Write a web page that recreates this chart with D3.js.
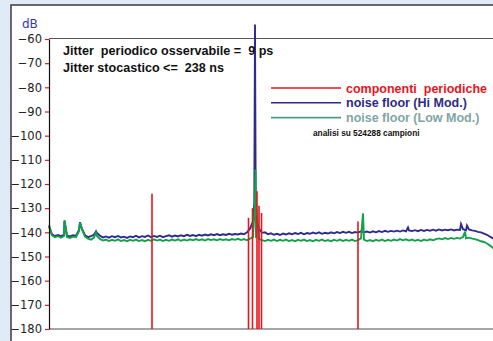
<!DOCTYPE html>
<html>
<head>
<meta charset="utf-8">
<script src="https://cdn.jsdelivr.net/npm/d3@7"></script>
<style>
  html, body { margin: 0; padding: 0; background: #e0ebf7; }
  svg { display: block; }
  text { white-space: pre; }
</style>
</head>
<body>
<div id="chart"></div>
<script>
// dB axis ticks
const yTicks = [-60, -70, -80, -90, -100, -110, -120, -130, -140, -150, -160, -170, -180];

// noise floor, one value every 3 bins (bins 0..450)
const floorStep = 3;
const hiModFloor = [
  -137.5, -140.8, -141.5, -141.1, -141.6, -141.0, -141.4, -141.7, -141.2, -141.5,
  -139.0, -138.6, -141.2, -142.0, -141.6, -141.0, -140.3, -141.4, -142.1, -141.7,
  -142.2, -141.6, -142.0, -141.5, -142.1, -141.8, -142.3, -141.7, -142.0, -141.4,
  -142.1, -141.6, -141.9, -141.3, -142.0, -141.5, -141.9, -141.4, -142.0, -141.6,
  -141.2, -141.8, -141.3, -141.7, -141.2, -141.6, -141.0, -141.5, -141.1, -141.6,
  -141.0, -141.4, -140.9, -141.3, -140.8, -141.2, -140.7, -141.2, -140.8, -141.1,
  -140.6, -141.0, -140.7, -140.9, -140.5, -140.8, -140.0, -138.5, -135.5, -134.5,
  -138.5, -140.2, -140.0, -140.8, -140.4, -141.0, -140.6, -141.1, -140.5, -140.9,
  -140.4, -140.8, -140.3, -140.7, -140.2, -140.8, -140.3, -140.6, -140.1, -140.5,
  -140.0, -140.6, -140.2, -140.5, -140.0, -140.4, -139.9, -140.3, -139.8, -140.2,
  -139.8, -140.3, -139.9, -140.1, -139.6, -140.0, -139.7, -140.1, -139.6, -140.0,
  -139.5, -139.9, -139.4, -139.8, -139.4, -139.7, -139.3, -139.7, -139.2, -139.6,
  -139.2, -139.5, -139.1, -139.5, -139.0, -139.4, -139.0, -139.3, -138.9, -139.3,
  -138.8, -139.2, -138.9, -139.1, -138.8, -139.2, -138.9, -139.0, -138.7, -139.1,
  -138.8, -139.2, -139.4, -139.8, -140.0, -140.5, -141.0, -141.8, -142.5, -143.2,
  -143.8
];
const lowModFloor = [
  -137.0, -141.3, -142.0, -141.6, -142.2, -141.5, -141.9, -142.3, -141.8, -142.0,
  -139.5, -138.8, -141.8, -142.6, -143.0, -142.2, -141.5, -142.7, -143.4, -143.0,
  -143.6, -143.1, -143.5, -142.9, -143.6, -143.2, -143.7, -143.1, -143.5, -143.0,
  -143.6, -143.2, -143.7, -143.1, -143.5, -142.9, -143.4, -143.0, -143.6, -143.1,
  -143.5, -143.0, -143.4, -142.9, -143.5, -143.0, -143.4, -142.9, -143.3, -142.8,
  -143.3, -142.9, -143.4, -142.8, -143.2, -142.9, -143.3, -142.8, -143.2, -142.9,
  -143.3, -142.8, -143.1, -142.7, -143.2, -142.8, -143.3, -142.6, -142.0, -142.4,
  -142.8, -143.2, -143.6, -143.1, -143.5, -143.0, -143.6, -143.1, -143.5, -143.0,
  -143.6, -143.2, -143.7, -143.1, -143.5, -143.0, -143.6, -143.2, -143.7, -143.1,
  -143.5, -143.0, -143.6, -143.2, -143.7, -143.1, -143.5, -143.0, -143.6, -143.1,
  -143.5, -143.0, -143.6, -143.2, -142.5, -143.0, -143.6, -143.2, -143.7, -143.1,
  -143.5, -143.0, -143.6, -143.1, -143.5, -143.0, -143.4, -142.8, -143.3, -142.9,
  -143.4, -143.0, -143.5, -143.1, -143.6, -143.0, -143.4, -142.9, -143.3, -142.8,
  -142.5, -142.9, -142.4, -142.8, -142.3, -142.7, -142.3, -142.6, -142.0, -142.5,
  -142.2, -142.6, -142.8, -143.2, -143.7, -144.0, -144.6, -145.5, -146.5, -147.3,
  -148.0
];

// narrow peaks on top of the floor: [bin, dB]
const hiModPeaks = [[15.5, -135.3], [31, -135.8], [47, -139.6], [205.3, -128], [206, -54], [206.7, -127], [359, -138.0], [412, -136.6], [418, -137.2]];
const lowModPeaks = [[15.5, -135.0], [31, -136.0], [47, -140.0], [205.8, -128], [206.5, -114], [207.2, -130], [314, -132.1], [416, -139.7]];

// periodic components: [bin, dB]
const periodic = [[103, -124], [199.5, -134], [203.5, -130], [208, -123], [210, -129], [212.5, -132], [309, -135.5]];

const legendItems = [
  {label: 'componenti  periodiche', line: '#e8141c', text: '#e8141c'},
  {label: 'noise floor (Hi Mod.)', line: '#2e2a86', text: '#2e2a86'},
  {label: 'noise floor (Low Mod.)', line: '#4f9a84', text: '#7fa6a4'}
];

const width = 493, height = 341;
const svg = d3.select('#chart').append('svg')
  .attr('width', width)
  .attr('height', height);

// white panel
svg.append('rect')
  .attr('x', 11).attr('y', 5)
  .attr('width', width + 20).attr('height', height + 20)
  .attr('fill', '#ffffff')
  .attr('stroke', '#3a3a3a')
  .attr('stroke-width', 1.5);

const x = d3.scaleLinear().domain([0, 450]).range([49, 499]);
const y = d3.scaleLinear().domain([-180, -60]).range([329, 39]);

function merge(floor, peaks) {
  const pts = floor.map((v, i) => [i * floorStep, v]).concat(peaks);
  pts.sort((a, b) => a[0] - b[0]);
  return pts;
}

// frame top + bottom
svg.append('line')
  .attr('x1', x(0)).attr('x2', width)
  .attr('y1', y(-60) - 0.5).attr('y2', y(-60) - 0.5)
  .attr('stroke', '#555').attr('stroke-width', 1.2);
svg.append('line')
  .attr('x1', x(0)).attr('x2', width)
  .attr('y1', y(-180)).attr('y2', y(-180))
  .attr('stroke', '#888').attr('stroke-width', 1.5);

const line = d3.line().x(d => x(d[0])).y(d => y(d[1]));

svg.append('path')
  .datum(merge(hiModFloor, hiModPeaks))
  .attr('d', line)
  .attr('fill', 'none')
  .attr('stroke', '#2f2a8e')
  .attr('stroke-width', 1.9);

svg.append('path')
  .datum(merge(lowModFloor, lowModPeaks))
  .attr('d', line)
  .attr('fill', 'none')
  .attr('stroke', '#12a04a')
  .attr('stroke-width', 1.9);

svg.append('g')
  .selectAll('line')
  .data(periodic)
  .enter().append('line')
  .attr('x1', d => x(d[0])).attr('x2', d => x(d[0]))
  .attr('y1', d => y(d[1])).attr('y2', y(-180))
  .attr('stroke', '#e8141c')
  .attr('stroke-width', 1.6);

// y axis
const yAxis = svg.append('g')
  .attr('transform', `translate(${x(0)},0)`)
  .call(d3.axisLeft(y).tickValues(yTicks).tickSize(4).tickSizeOuter(0).tickPadding(3));
yAxis.select('.domain').attr('stroke', '#111').attr('stroke-width', 1.2);
yAxis.selectAll('.tick line').attr('stroke', '#e8141c').attr('stroke-width', 1.2);
yAxis.selectAll('.tick text')
  .attr('fill', '#222')
  .style('font-family', '"DejaVu Sans", sans-serif')
  .style('font-size', '11.5px');

svg.append('text')
  .attr('x', 22).attr('y', 28)
  .attr('fill', '#3838a8')
  .style('font-family', '"DejaVu Sans", sans-serif')
  .style('font-size', '12px')
  .text('dB');

// annotations
const ann = svg.append('g')
  .style('font-family', '"Liberation Sans", Arial, sans-serif')
  .style('font-weight', 'bold')
  .style('font-size', '12.6px')
  .attr('fill', '#111');
ann.append('text').attr('x', 63).attr('y', 55).text('Jitter  periodico osservabile =  9 ps');
ann.append('text').attr('x', 63).attr('y', 71.5).text('Jitter stocastico <=  238 ns');

// legend
const legend = svg.append('g').attr('transform', 'translate(271,88)');
const li = legend.selectAll('g')
  .data(legendItems)
  .enter().append('g')
  .attr('transform', (d, i) => `translate(0,${i * 14.8})`);
li.append('line')
  .attr('x1', 0).attr('x2', 70)
  .attr('stroke', d => d.line)
  .attr('stroke-width', 1.6);
li.append('text')
  .attr('x', 75).attr('y', 4.5)
  .attr('fill', d => d.text)
  .style('font-family', '"Liberation Sans", Arial, sans-serif')
  .style('font-weight', 'bold')
  .style('font-size', '12.5px')
  .text(d => d.label);

svg.append('text')
  .attr('x', 313).attr('y', 136)
  .attr('fill', '#111')
  .style('font-family', '"Liberation Sans", Arial, sans-serif')
  .style('font-weight', 'bold')
  .style('font-size', '8.3px')
  .text('analisi su 524288 campioni');
</script>
</body>
</html>
